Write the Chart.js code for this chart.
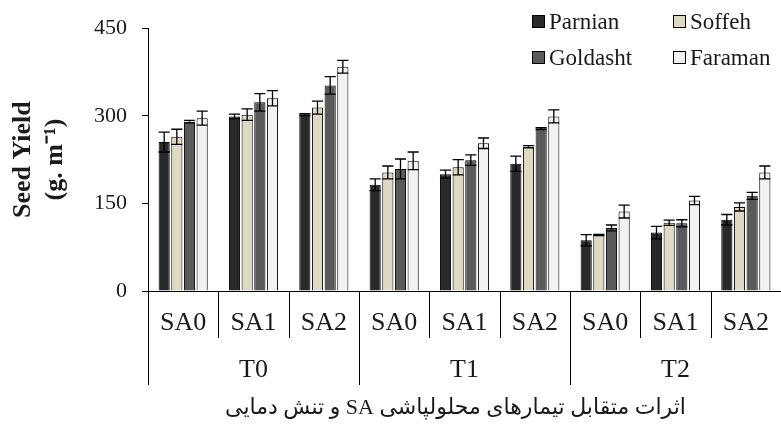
<!DOCTYPE html>
<html>
<head>
<meta charset="utf-8">
<script src="https://cdn.jsdelivr.net/npm/chart.js@4.4.0/dist/chart.umd.min.js"></script>
<style>
    html, body { margin: 0; padding: 0; background: #fff; }
    #wrap { width: 781px; height: 425px; position: relative; }
</style>
</head>
<body>
<div id="wrap"><canvas id="seed-yield"></canvas></div>
<script>
// Seed yield by SA treatment (SA0..SA2) within heat stress level (T0..T2)
const CATEGORIES = ['SA0', 'SA1', 'SA2', 'SA0', 'SA1', 'SA2', 'SA0', 'SA1', 'SA2'];
const GROUPS = ['T0', 'T1', 'T2'];
const Y_TICKS = [0, 150, 300, 450];
const X_TITLE = 'اثرات متقابل تیمارهای محلولپاشی SA و تنش دمایی';
const Y_TITLE = ['Seed Yield', '(g. m⁻¹)'];

const CULTIVARS = ['Parnian', 'Soffeh', 'Goldasht', 'Faraman'];
const parnian     = [255, 299, 302, 182, 200, 218, 87, 100, 122];
const parnianErr  = [17, 4, 1.5, 10, 7, 13, 9.5, 10.5, 9];
const soffeh      = [264, 302, 314, 203, 212, 247, 96, 117, 144];
const soffehErr   = [13, 10, 11, 11, 13, 2, 1, 4.5, 7];
const goldasht    = [290, 323, 352, 209, 224, 278, 108, 116, 163];
const goldashtErr = [2, 15, 15, 17, 9, 1.5, 5, 6, 6];
const faraman     = [296, 330, 384, 223, 253, 299, 136, 155, 203];
const faramanErr  = [12, 13, 11, 15, 9, 11, 11, 7, 11];

const FILLS = ['#292929', '#ddd9c3', '#5a5a5a', '#f2f2f2'];
const SERIF = "'Liberation Serif', 'Times New Roman', serif";
const INK = '#1a1a1a';

const seriesValues = [parnian, soffeh, goldasht, faraman];
const seriesErrors = [parnianErr, soffehErr, goldashtErr, faramanErr];

// error bars (symmetric, capped) drawn on top of each bar
const errorBarPlugin = {
    id: 'errorBars',
    afterDatasetsDraw(chart) {
        const ctx = chart.ctx;
        const y = chart.scales.y;
        ctx.save();
        ctx.strokeStyle = '#000';
        ctx.lineWidth = 1.3;
        chart.data.datasets.forEach((ds, di) => {
            const meta = chart.getDatasetMeta(di);
            meta.data.forEach((bar, i) => {
                const v = ds.data[i];
                const e = ds.errors[i];
                const top = y.getPixelForValue(v + e);
                const bot = y.getPixelForValue(v - e);
                const half = bar.width / 2;
                ctx.beginPath();
                ctx.moveTo(bar.x, top);
                ctx.lineTo(bar.x, bot);
                ctx.moveTo(bar.x - half, top);
                ctx.lineTo(bar.x + half, top);
                ctx.moveTo(bar.x - half, bot);
                ctx.lineTo(bar.x + half, bot);
                ctx.stroke();
            });
        });
        ctx.restore();
    }
};

// two-level category axis + bottom title
const groupedAxisPlugin = {
    id: 'groupedAxis',
    afterDraw(chart) {
        const ctx = chart.ctx;
        const x = chart.scales.x;
        const area = chart.chartArea;
        const step = x.getPixelForValue(1) - x.getPixelForValue(0);
        const base = area.bottom;
        ctx.save();
        ctx.strokeStyle = '#000';
        ctx.lineWidth = 1;
        ctx.fillStyle = INK;
        ctx.textAlign = 'center';
        ctx.textBaseline = 'middle';

        ctx.font = '26px ' + SERIF;
        CATEGORIES.forEach((lab, i) => {
            const cx = x.getPixelForValue(i);
            ctx.fillText(lab, cx, base + 32);
            const edge = Math.round(cx + step / 2) + 0.5;
            const isGroupEdge = (i + 1) % 3 === 0;
            ctx.beginPath();
            ctx.moveTo(edge, base);
            ctx.lineTo(edge, base + (isGroupEdge ? 94 : 47));
            ctx.stroke();
        });
        const left = Math.round(x.getPixelForValue(0) - step / 2) + 0.5;
        ctx.beginPath();
        ctx.moveTo(left, base);
        ctx.lineTo(left, base + 94);
        ctx.stroke();

        GROUPS.forEach((g, gi) => {
            const cx = x.getPixelForValue(gi * 3 + 1);
            ctx.fillText(g, cx, base + 79);
        });

        ctx.font = "22px 'Liberation Serif', 'DejaVu Sans', serif";
        ctx.direction = 'rtl';
        ctx.fillText(X_TITLE, (area.left + area.right) / 2 - 9, base + 117);
        ctx.restore();
    }
};

// two-column legend in the top-right corner
const LEGEND_COLS = [532, 673];
const LEGEND_ROWS = [22, 58];
const legendPlugin = {
    id: 'gridLegend',
    afterDraw(chart) {
        const ctx = chart.ctx;
        ctx.save();
        ctx.font = '23px ' + SERIF;
        ctx.textBaseline = 'middle';
        ctx.textAlign = 'left';
        chart.data.datasets.forEach((ds, i) => {
            const bx = LEGEND_COLS[i % 2];
            const by = LEGEND_ROWS[Math.floor(i / 2)];
            ctx.fillStyle = ds.backgroundColor;
            ctx.fillRect(bx, by - 7, 13, 13);
            ctx.strokeStyle = '#000';
            ctx.lineWidth = 1;
            ctx.strokeRect(bx + 0.5, by - 6.5, 12, 12);
            ctx.fillStyle = INK;
            ctx.fillText(ds.label, bx + 17, by + 1);
        });
        ctx.restore();
    }
};

const datasets = CULTIVARS.map((name, i) => ({
    label: name,
    data: seriesValues[i],
    errors: seriesErrors[i],
    backgroundColor: FILLS[i],
    borderColor: '#000',
    borderWidth: 1,
    barPercentage: 0.88,
    categoryPercentage: 0.72,
}));

new Chart(document.getElementById('seed-yield'), {
    type: 'bar',
    data: { labels: CATEGORIES, datasets },
    options: {
        responsive: true,
        maintainAspectRatio: false,
        animation: false,
        layout: { padding: { left: 0, right: 0, top: 27, bottom: 134 } },
        plugins: {
            legend: { display: false },
            tooltip: { enabled: false }
        },
        scales: {
            x: {
                grid: { display: false, drawTicks: false },
                ticks: { display: false },
                border: { display: true, color: '#000', width: 1 }
            },
            y: {
                min: 0,
                max: 450,
                afterBuildTicks: s => { s.ticks = Y_TICKS.map(v => ({ value: v })); },
                afterFit: s => { s.width = 148; },
                grid: { drawOnChartArea: false, drawTicks: true, tickLength: 6, color: '#000' },
                border: { display: true, color: '#000', width: 1 },
                ticks: { color: INK, font: { family: SERIF, size: 22 }, padding: 15 },
                title: {
                    display: true,
                    text: Y_TITLE,
                    color: INK,
                    font: { family: SERIF, size: 26, weight: 'bold' },
                    padding: { top: 8, bottom: 0 }
                }
            }
        }
    },
    plugins: [errorBarPlugin, groupedAxisPlugin, legendPlugin]
});
</script>
</body>
</html>
